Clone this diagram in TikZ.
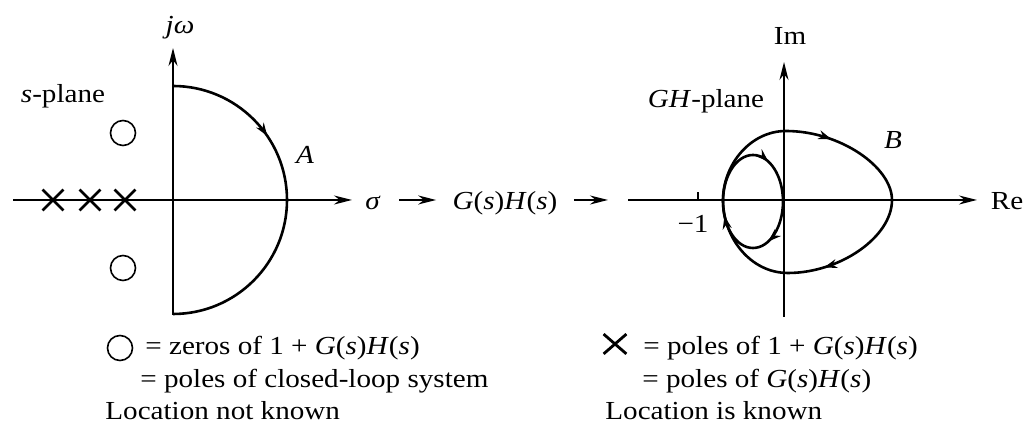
\documentclass[tikz,border=0pt]{standalone}
\usepackage{fontspec}
\setmainfont[FakeStretch=1.12]{Liberation Serif}
\usepackage{tikz}
\usetikzlibrary{arrows.meta,shapes.misc,decorations.markings,positioning}
\newcommand{\GH}{\textit{G}(\textit{s})\textit{H}(\textit{s})}
\tikzset{axis/.style={line width=0.9pt},
  contour/.style={line width=1.3pt},
  zero/.style={draw,circle,line width=0.8pt,minimum size=12.5pt,inner sep=0pt},
  pole/.style={draw,cross out,line width=1.4pt,minimum size=9pt,inner sep=0pt},
  lbl/.style={font=\fontsize{13}{15}\selectfont,inner sep=0pt},
  tipat/.style={postaction={decorate,decoration={markings,
    mark=at position #1 with {\arrow{Stealth[length=6.5pt,width=4.5pt]}}}}}}

\begin{document}
\begin{tikzpicture}[x=0.5pt, y=0.5pt, >={Stealth[length=9pt,width=4.5pt]}]
\useasboundingbox (0,0) rectangle (1030,427);
% s-plane
\draw[axis,->] (13,227) -- (352,227);
\draw[axis,->] (173,112) -- (173,379);
\draw[contour, tipat=0.31]
  (173,341) arc[start angle=90, end angle=-90, radius=57pt];
\node[zero] (z1) at (123,294) {};
\node[zero] (z2) at (123,159) {};
\node[pole] (p1) at (53,227) {};
\node[pole] (p2) at (90,227) {};
\node[pole] (p3) at (125,227) {};
\node[lbl] (jw) at (180,399) {\textit{jω}};
\node[lbl, anchor=base] (splane) at (63,324) {\textit{s}-plane};
\node[lbl] (A) at (305,272) {\textit{A}};
% mapping
\node[lbl] (sig) at (373,224) {\textit{σ}};
\node[lbl] (gh) at (505,224) {\GH};
\coordinate (gh1) at (608,227);
\coordinate (re0) at (628,227);
\draw[axis,->, shorten <=9pt, shorten >=8pt] (sig.east |- re0) -- (gh.west |- re0);
\draw[axis,->, shorten <=8pt] (gh.east |- re0) -- (gh1);
% GH-plane
\draw[axis,->] (re0) -- (977,227);
\draw[axis,->] (784,110) -- (784,365);
\draw[axis] (698,227) -- (698,235);
\node[lbl, anchor=base] (m1) at (693,194) {−1};
\node[lbl, anchor=base] (Im) at (790,382) {Im};
\node[lbl, anchor=base] (Re) at (1007,217) {Re};
\node[lbl, anchor=base] (ghplane) at (706,319) {\textit{GH}-plane};
\node[lbl] (B) at (893,287) {\textit{B}};
\draw[contour, tipat=0.095, tipat=0.49]
  (786,296) .. controls (840,296) and (892,260) .. (892,227)
  .. controls (892,190) and (840,154) .. (788,154)
  .. controls (750,154) and (723,190) .. (723,227)
  .. controls (723,262) and (750,296) .. (786,296) -- cycle;
\draw[contour, tipat=0.07, tipat=0.43, tipat=0.69]
  (753,272) arc[start angle=90, end angle=-270, x radius=15pt, y radius=23.25pt];
% legend
\node[zero] (lz) at (120,79) {};
\node[lbl, anchor=base west] (lz1) at (145,72) {= zeros of 1 + \GH};
\node[lbl, anchor=base west] (lz2) at (140,39) {= poles of closed-loop system};
\node[lbl, anchor=base west] (lz3) at (105,7) {Location not known};
\node[pole, minimum width=10pt, minimum height=8.5pt] (lp) at (615,83) {};
\node[lbl, anchor=base west] (lp1) at (643,72) {= poles of 1 + \GH};
\node[lbl, anchor=base west] (lp2) at (642,39) {= poles of \GH};
\node[lbl, anchor=base west] (lp3) at (605,7) {Location is known};
\end{tikzpicture}
\end{document}
